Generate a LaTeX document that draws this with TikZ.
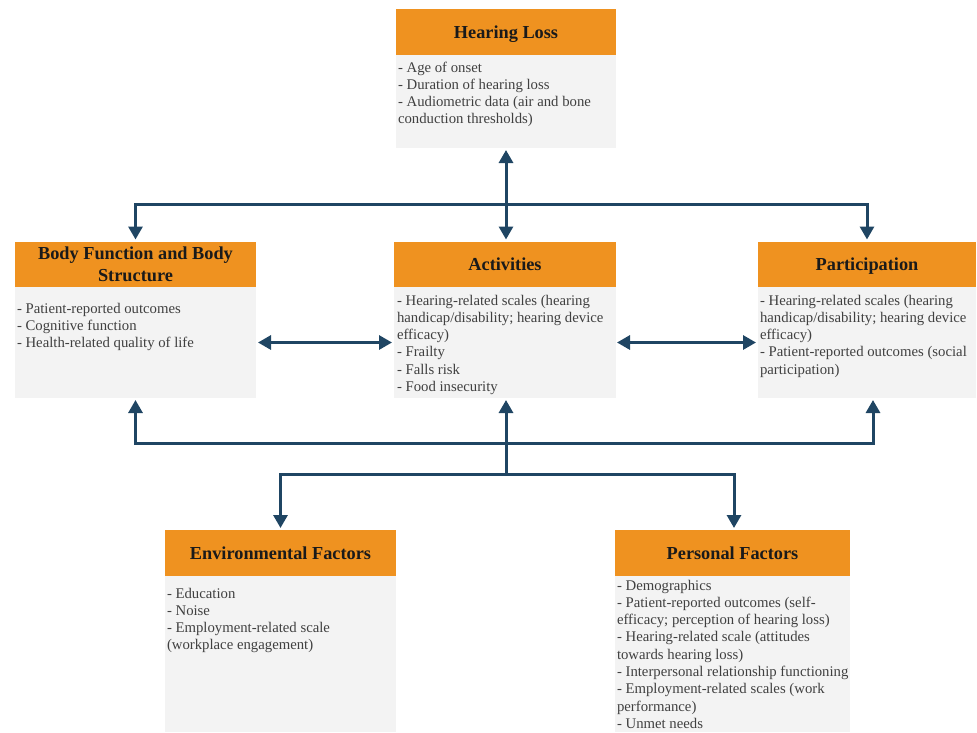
\documentclass[tikz,border=0pt]{standalone}
\usepackage{fontspec}
\setmainfont{Liberation Serif}
\usetikzlibrary{arrows.meta,calc}
\definecolor{hdrorange}{RGB}{239,146,32}
\definecolor{bodygray}{RGB}{243,243,243}
\definecolor{arrblue}{RGB}{31,69,99}
\definecolor{bodytext}{RGB}{64,64,64}
\definecolor{hdrtext}{RGB}{26,26,26}
\tikzset{
  hdr/.style={fill=hdrorange, draw=none, inner sep=0pt, outer sep=0pt, align=center,
    text=hdrtext, text depth=0pt, font={\fontsize{18.3}{22}\selectfont\bfseries}},
  bodybox/.style={fill=bodygray, draw=none, inner sep=0pt, outer sep=0pt},
  bodytxt/.style={anchor=north west, inner sep=0pt, outer sep=0pt, align=left,
    text=bodytext, font={\fontsize{14.75}{17.3}\selectfont}},
  arr/.style={draw=arrblue, line width=3pt},
  tip/.tip={Triangle[length=13pt,width=14pt]}
}
\begin{document}
\begin{tikzpicture}[x=1pt,y=-1pt]
\useasboundingbox (0,0) rectangle (977,732);
% Hearing Loss
\node[hdr, minimum width=220pt, minimum height=45.7pt] (hlh) at (506,32.15) {Hearing Loss};
\node[bodybox, minimum width=220pt, minimum height=93pt] (hlb) at (506,101.5) {};
\node[bodytxt] (hlt) at (398,60) {\rule{0pt}{12pt}- Age of onset\\- Duration of hearing loss\\- Audiometric data (air and bone\\conduction thresholds)};
% Body Function
\node[hdr, minimum width=241pt, minimum height=45.5pt] (bfh) at (135.5,264.25) {Body Function and Body\\Structure};
\node[bodybox, minimum width=241pt, minimum height=111pt] (bfb) at (135.5,342.5) {};
\node[bodytxt] (bft) at (17,301) {\rule{0pt}{12pt}- Patient-reported outcomes\\- Cognitive function\\- Health-related quality of life};
% Activities
\node[hdr, minimum width=222pt, minimum height=45.5pt] (acth) at (505,264.25) {Activities};
\node[bodybox, minimum width=222pt, minimum height=111pt] (actb) at (505,342.5) {};
\node[bodytxt] (actt) at (397,293) {\rule{0pt}{12pt}- Hearing-related scales (hearing\\handicap/disability; hearing device\\efficacy)\\- Frailty\\- Falls risk\\- Food insecurity};
% Participation
\node[hdr, minimum width=218pt, minimum height=45.5pt] (parth) at (867,264.25) {Participation};
\node[bodybox, minimum width=218pt, minimum height=111pt] (partb) at (867,342.5) {};
\node[bodytxt] (partt) at (760,293) {\rule{0pt}{12pt}- Hearing-related scales (hearing\\handicap/disability; hearing device\\efficacy)\\- Patient-reported outcomes (social\\participation)};
% Environmental Factors
\node[hdr, minimum width=231pt, minimum height=46pt] (envh) at (280.5,553) {Environmental Factors};
\node[bodybox, minimum width=231pt, minimum height=156pt] (envb) at (280.5,654) {};
\node[bodytxt] (envt) at (167,586) {\rule{0pt}{12pt}- Education\\- Noise\\- Employment-related scale\\(workplace engagement)};
% Personal Factors
\node[hdr, minimum width=235pt, minimum height=46pt] (persh) at (732.5,553) {Personal Factors};
\node[bodybox, minimum width=235pt, minimum height=156pt] (persb) at (732.5,654) {};
\node[bodytxt] (perst) at (617,578) {\rule{0pt}{12pt}- Demographics\\- Patient-reported outcomes (self-\\efficacy; perception of hearing loss)\\- Hearing-related scale (attitudes\\towards hearing loss)\\- Interpersonal relationship functioning\\- Employment-related scales (work\\performance)\\- Unmet needs};
% connectors
\coordinate (jx) at (506,0);
\coordinate (t1) at (506,204);
\coordinate (b1) at (506,443);
\coordinate (b2) at (506,474);
\coordinate (actin) at ([yshift=2pt]acth.north);
\coordinate (actout) at ([yshift=-2pt]actb.south);
\draw[arr,{tip}-{tip}] ([yshift=-2pt]hlb.south) -- (actin -| jx);
\draw[arr,-{tip}] (t1) -| ([yshift=2pt]bfh.north);
\draw[arr,-{tip}] (t1) -| ([yshift=2pt]parth.north);
\draw[arr,{tip}-{tip}] ([xshift=2pt]bfb.east) -- ([xshift=-2pt]actb.west);
\draw[arr,{tip}-{tip}] ([xshift=1pt]actb.east) -- ([xshift=-2pt]partb.west);
\draw[arr,-{tip}] (b1) -| ([yshift=-2pt]bfb.south);
\draw[arr,-{tip}] (b1) -| ([xshift=6pt,yshift=-2pt]partb.south);
\draw[arr,-{tip}] (b2) -- (actout -| jx);
\draw[arr,-{tip}] (b2) -| ([yshift=2pt]envh.north);
\draw[arr,-{tip}] (b2) -| ([xshift=1.5pt,yshift=2pt]persh.north);
\end{tikzpicture}
\end{document}
